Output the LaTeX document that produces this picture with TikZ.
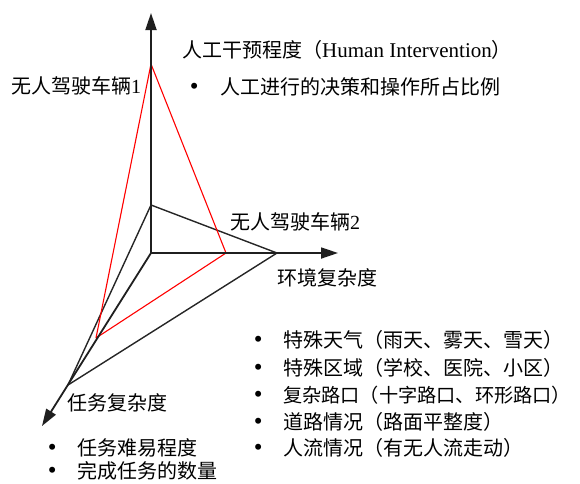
\documentclass[tikz,border=0pt]{standalone}
\usepackage{fontspec}
\setmainfont{Liberation Serif}
\newfontfamily\cjk{Noto Sans CJK SC}
\usetikzlibrary{arrows.meta}
\newcommand{\bul}{{\fontsize{25}{25}\selectfont •}}
\begin{document}
\begin{tikzpicture}[x=1pt,y=-1pt,
  lbl/.style={anchor=west,inner sep=0pt,font=\fontsize{20}{23}\selectfont,text height=17pt,text depth=3pt},
  axisline/.style={line width=1.8pt,draw=black!88,-{Triangle[length=17pt,width=11pt]}},
  blktri/.style={line width=1.4pt,draw=black!85,line join=round},
  redtri/.style={line width=1.1pt,draw=red,line join=round}]
\useasboundingbox (0,0) rectangle (580,483);
% points
\coordinate (O) at (151,253);
\coordinate (ty) at (151,13);
\coordinate (tx) at (338,253);
\coordinate (tz) at (42,426);
\coordinate (b1) at (151,205);
\coordinate (b2) at (277,253);
\coordinate (b3) at (68,385);
\coordinate (r1) at (151,64);
\coordinate (r2) at (226,253);
\coordinate (r3) at (96,338);
% triangles
\draw[blktri] (b1) -- (b2) -- (b3) -- cycle;
\draw[redtri] (r1) -- (r2) -- (r3) -- cycle;
% axes
\draw[axisline] (O) -- (ty);
\draw[axisline] (O) -- (tx);
\draw[axisline] (O) -- (tz);
% labels
\node[lbl] (hi) at (182,50) {{\cjk 人工干预程度（}{\fontsize{21}{23}\selectfont Human Intervention}{\cjk ）}};
\node[lbl] (hb) at (189.6,87) {\bul\hspace{21.6pt}{\cjk 人工进行的决策和操作所占比例}};
\node[lbl] (v1) at (11,86) {{\cjk 无人驾驶车辆}1};
\node[lbl] (v2) at (230,222) {{\cjk 无人驾驶车辆}2};
\node[lbl] (xl) at (277,278) {\cjk 环境复杂度};
\node[lbl] (zl) at (67,403) {\cjk 任务复杂度};
\node[lbl] (e1) at (253.6,340) {\bul\hspace{20.6pt}{\cjk 特殊天气（雨天、雾天、雪天）}};
\node[lbl] (e2) at (253.6,368) {\bul\hspace{20.6pt}{\cjk 特殊区域（学校、医院、小区）}};
\node[lbl] (e3) at (253.6,395) {\bul\hspace{20.6pt}{\cjk\fontsize{19.2}{23}\selectfont 复杂路口（十字路口、环形路口）}};
\node[lbl] (e4) at (253.6,422) {\bul\hspace{20.6pt}{\cjk 道路情况（路面平整度）}};
\node[lbl] (e5) at (253.6,448) {\bul\hspace{20.6pt}{\cjk 人流情况（有无人流走动）}};
\node[lbl] (t1) at (47.6,448) {\bul\hspace{20.6pt}{\cjk 任务难易程度}};
\node[lbl] (t2) at (47.6,471) {\bul\hspace{20.6pt}{\cjk 完成任务的数量}};
\end{tikzpicture}
\end{document}
